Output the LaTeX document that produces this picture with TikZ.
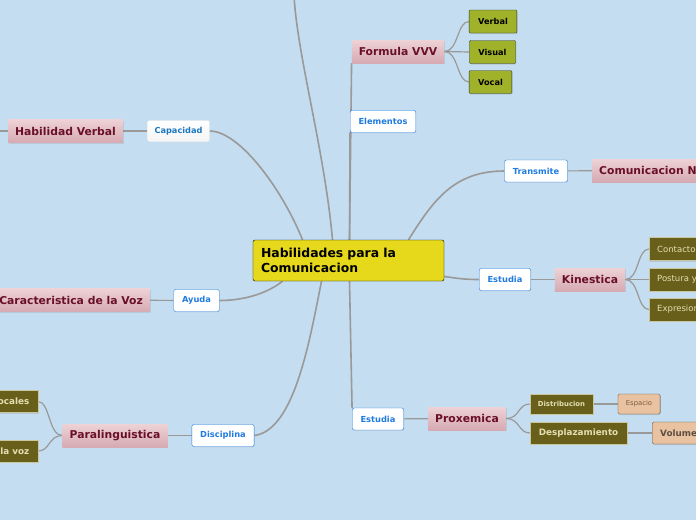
\documentclass[tikz,border=0pt]{standalone}
\usepackage{fontspec}
\setmainfont{DejaVu Sans}
\usepackage{tikz}
\usetikzlibrary{positioning,shadows}
\definecolor{bgblue}{HTML}{C4DDF0}
\definecolor{rootyellow}{HTML}{E6D91C}
\definecolor{pinktop}{HTML}{EDD2D6}
\definecolor{pinkbot}{HTML}{D6AAB2}
\definecolor{maroon}{HTML}{6A1026}
\definecolor{linkblue}{HTML}{1F7BE0}
\definecolor{capblue}{HTML}{1A78C2}
\definecolor{limegreen}{HTML}{9FB22A}
\definecolor{olivedark}{HTML}{68601A}
\definecolor{cream}{HTML}{E4DEB2}
\definecolor{creamline}{HTML}{CBC79C}
\definecolor{peach}{HTML}{E9C2A2}
\definecolor{peachline}{HTML}{5E4E40}
\definecolor{brownish}{HTML}{7A5A40}
\definecolor{wire}{HTML}{999999}
\pgfdeclarelayer{wires}
\pgfsetlayers{wires,main}

\begin{document}
\begin{tikzpicture}[x=1pt,y=-1pt]
    \tikzset{wire/.style={draw=wire,line width=1.2pt},
      trunk/.style={draw=wire,line width=1.6pt},
      root/.style={draw=black,fill=rootyellow,rounded corners=2pt,text width=175pt,align=left,inner xsep=8pt,minimum height=41pt,font=\fontsize{12.4}{15}\selectfont\bfseries},
      topic/.style={top color=pinktop,bottom color=pinkbot,text=maroon,inner xsep=7pt,minimum height=23pt,font=\fontsize{10.8}{13}\selectfont\bfseries,drop shadow={opacity=0.2,shadow xshift=0.8pt,shadow yshift=-1.2pt}},
      relation/.style={draw=linkblue,fill=white,text=linkblue,rounded corners=2pt,inner xsep=8.3pt,minimum height=22pt,font=\fontsize{8.3}{10}\selectfont\bfseries,drop shadow={opacity=0.15,shadow xshift=0.6pt,shadow yshift=-0.8pt}},
      capac/.style={draw=white!85!gray,top color=white,bottom color=white!92!gray,text=capblue,rounded corners=2pt,inner xsep=7pt,minimum height=21pt,font=\fontsize{8.2}{10}\selectfont\bfseries},
      leaf/.style={draw=black!80,fill=limegreen,text=black,rounded corners=1pt,inner xsep=9pt,minimum height=23pt,font=\fontsize{8.2}{10}\selectfont\bfseries,drop shadow={opacity=0.25,shadow xshift=0.8pt,shadow yshift=-1pt}},
      detail/.style={draw=creamline,fill=olivedark,text=cream,inner xsep=8pt,minimum height=23pt,font=\fontsize{8.5}{10}\selectfont,drop shadow={opacity=0.25,shadow xshift=0.8pt,shadow yshift=-1pt}},
      olivebig/.style={draw=creamline,fill=olivedark,text=cream,inner xsep=8.5pt,minimum height=22pt,font=\fontsize{8.8}{10}\selectfont\bfseries,drop shadow={opacity=0.25,shadow xshift=0.8pt,shadow yshift=-1pt}},
      olivesmall/.style={draw=creamline,fill=olivedark,text=cream,inner xsep=8pt,minimum height=20pt,font=\fontsize{6.9}{8}\selectfont\bfseries,drop shadow={opacity=0.25,shadow xshift=0.8pt,shadow yshift=-1pt}},
      peachsmall/.style={draw=peachline,fill=peach,text=brownish,rounded corners=1.5pt,inner xsep=8pt,minimum height=20pt,font=\fontsize{6.8}{8}\selectfont,drop shadow={opacity=0.25,shadow xshift=0.8pt,shadow yshift=-1pt}},
      peachbig/.style={draw=peachline,fill=peach,text=peachline,rounded corners=1.5pt,inner xsep=8pt,minimum height=22pt,font=\fontsize{8.8}{10}\selectfont\bfseries,drop shadow={opacity=0.25,shadow xshift=0.8pt,shadow yshift=-1pt}}}
    \useasboundingbox (0,0) rectangle (696,520);
    \clip (0,0) rectangle (696,520);
    \begin{pgfonlayer}{wires}
      \fill[bgblue] (0,0) rectangle (696,520);
    \end{pgfonlayer}
    \node[root] (root) at (348.5,260.5) {Habilidades para la\\Comunicacion};
    \node[topic] (formula) at (398,51.5) {Formula VVV};
    \node[leaf] (verbal) at (493,21.5) {Verbal};
    \node[leaf] (visual) at (492.5,52) {Visual};
    \node[leaf] (vocal) at (490.5,82) {Vocal};
    \node[relation] (elementos) at (383,121.5) {Elementos};
    \node[relation] (transmite) at (536,171) {Transmite};
    \node[topic,anchor=west] (noverbal) at (592,170.5) {Comunicacion No Verbal};
    \node[relation] (estudiaK) at (505,279.5) {Estudia};
    \node[topic] (kinestica) at (590,279.5) {Kinestica};
    \node[detail,anchor=west] (contacto) at (649,249) {Contacto Visual};
    \node[detail,anchor=west] (postura) at (649,279.5) {Postura y Gestos};
    \node[detail,anchor=west] (expresion) at (649,309.5) {Expresion Facial};
    \node[relation] (estudiaP) at (378,419) {Estudia};
    \node[topic] (proxemica) at (467,418.5) {Proxemica};
    \node[olivesmall] (distribucion) at (561.5,404) {Distribucion};
    \node[peachsmall] (espacio) at (639,404) {Espacio};
    \node[olivebig] (desplaz) at (578.5,433) {Desplazamiento};
    \node[peachbig,anchor=west] (volumen) at (652,433) {Volumen};
    \node[relation] (disciplina) at (223,435.5) {Disciplina};
    \node[topic] (paraling) at (115,435.5) {Paralinguistica};
    \node[olivebig,anchor=east] (vocales) at (38,401.5) {Cualidades vocales};
    \node[olivebig,anchor=east] (voz) at (38,451) {Tono de la voz};
    \node[relation] (ayuda) at (196.5,300.5) {Ayuda};
    \node[topic,anchor=east] (caracter) at (150,300) {Caracteristica de la Voz};
    \node[capac] (capacidad) at (178.5,131) {Capacidad};
    \node[topic] (hverbal) at (65.5,131) {Habilidad Verbal};
    \coordinate (hvout) at (-20,131);
    \coordinate (upper) at (294,-5);
    \begin{pgfonlayer}{wires}
      \draw[trunk] ([xshift=-16pt]root.north) .. controls +(-8,-90) and +(3,60) .. (upper);
      \draw[trunk] ([xshift=-46pt]root.north) .. controls +(-20,-50) and +(30,0) .. (capacidad.east);
      \draw[trunk] ([xshift=1pt]root.north) -- (formula.south west);
      \draw[trunk] ([xshift=1pt]root.north) -- (elementos.south west);
      \draw[trunk] ([xshift=60pt]root.north) .. controls +(25,-40) and +(-50,0) .. (transmite.west);
      \draw[trunk] ([yshift=-16pt]root.east) .. controls +(15,2) and +(-15,0) .. (estudiaK.west);
      \draw[trunk] ([xshift=1pt]root.south) -- (estudiaP.north west);
      \draw[trunk] ([xshift=-27pt]root.south) .. controls +(-12,60) and +(40,-5) .. (disciplina.east);
      \draw[trunk] ([xshift=-66pt]root.south) .. controls +(-15,12) and +(25,0) .. (ayuda.east);
      \draw[wire] (formula.east) .. controls +(14,0) and +(-12,0) .. (verbal.west);
      \draw[wire] (formula.east) -- (visual.west);
      \draw[wire] (formula.east) .. controls +(14,0) and +(-12,0) .. (vocal.west);
      \draw[wire] (transmite) -- (noverbal);
      \draw[wire] (estudiaK) -- (kinestica);
      \draw[wire] (kinestica.east) .. controls +(14,0) and +(-12,0) .. (contacto.west);
      \draw[wire] (kinestica.east) -- (postura.west);
      \draw[wire] (kinestica.east) .. controls +(14,0) and +(-12,0) .. (expresion.west);
      \draw[wire] (estudiaP) -- (proxemica);
      \draw[wire] (proxemica.east) .. controls +(14,0) and +(-12,0) .. (distribucion.west);
      \draw[wire] (proxemica.east) .. controls +(14,0) and +(-12,0) .. (desplaz.west);
      \draw[wire] (distribucion) -- (espacio);
      \draw[wire] (desplaz) -- (volumen);
      \draw[wire] (disciplina) -- (paraling);
      \draw[wire] (paraling.west) .. controls +(-14,0) and +(12,0) .. (vocales.east);
      \draw[wire] (paraling.west) .. controls +(-14,0) and +(12,0) .. (voz.east);
      \draw[wire] (ayuda) -- (caracter);
      \draw[wire] (capacidad) -- (hverbal);
      \draw[wire] (hverbal.west) -- (hvout);
    \end{pgfonlayer}
\end{tikzpicture}
\end{document}
